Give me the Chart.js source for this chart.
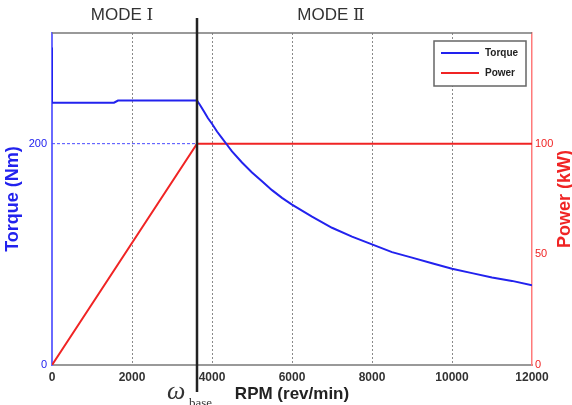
<!DOCTYPE html>
<html>
<head>
<meta charset="utf-8">
<script src="https://cdn.jsdelivr.net/npm/chart.js@4.4.1/dist/chart.umd.min.js"></script>
<style>
  html, body { margin: 0; padding: 0; background: #fff; }
  canvas { display: block; }
</style>
</head>
<body>
<canvas id="chart" width="572" height="405"></canvas>
<script>
// values
const torqueRpm = [0, 0, 1550, 1650, 3625, 3700, 3800, 3900, 4000, 4125, 4250, 4375, 4500, 4750, 5000, 5250, 5500, 5750, 6000, 6500, 7000, 7500, 8000, 8500, 9000, 9500, 10000, 10500, 11000, 11500, 12000];
const torqueNm  = [287, 237, 237, 239, 239, 235, 229, 223, 218, 211, 205, 199, 193, 183, 174, 166, 158, 151, 145, 134, 124, 116, 109, 102, 97, 92, 87, 83, 79, 76, 72];
const powerRpm = [0, 3625, 12000];
const powerKw  = [0, 100, 100];
const refRpm = [0, 3625];
const refNm  = [200, 200];
const baseRpm = 3625;
const xTicks = [0, 2000, 4000, 6000, 8000, 10000, 12000];
const torqueTicks = [0, 200];
const powerTicks = [0, 50, 100];
const modeLabels = ["MODE \u2160", "MODE \u2161"];

const BLUE = "#2222ee";
const RED = "#f02424";

const toPoints = (xs, ys) => xs.map((x, i) => ({x: x, y: ys[i]}));

//draws the frame, the base speed line, legend and loose texts
const decorPlugin = {
    id: "decor",
    afterDatasetsDraw(chart){
        const ctx = chart.ctx;
        const area = chart.chartArea;
        const xs = chart.scales.x;
        ctx.save();
        // top border
        ctx.strokeStyle = "#777";
        ctx.lineWidth = 1.5;
        ctx.beginPath();
        ctx.moveTo(area.left, area.top);
        ctx.lineTo(area.right, area.top);
        ctx.stroke();

        // base speed line
        const bx = xs.getPixelForValue(baseRpm);
        ctx.strokeStyle = "#222";
        ctx.lineWidth = 2.5;
        ctx.beginPath();
        ctx.moveTo(bx, 18);
        ctx.lineTo(bx, 392);
        ctx.stroke();

        // legend
        ctx.fillStyle = "#fff";
        ctx.fillRect(434, 41, 92, 45);
        ctx.strokeStyle = "#666";
        ctx.lineWidth = 1.5;
        ctx.strokeRect(434, 41, 92, 45);
        const items = chart.data.datasets.filter(d => d.label);
        items.forEach((d, i) => {
            const y = 53 + i * 20;
            ctx.strokeStyle = d.borderColor;
            ctx.lineWidth = 2;
            ctx.beginPath();
            ctx.moveTo(441, y);
            ctx.lineTo(479, y);
            ctx.stroke();
            ctx.fillStyle = "#222";
            ctx.font = "bold 10px 'Liberation Sans', Arial, sans-serif";
            ctx.textBaseline = "middle";
            ctx.textAlign = "left";
            ctx.fillText(d.label, 485, y);
        });

        // mode labels
        ctx.fillStyle = "#333";
        ctx.font = "17px 'Liberation Sans', 'DejaVu Serif', serif";
        ctx.textAlign = "center";
        ctx.textBaseline = "middle";
        ctx.fillText(modeLabels[0], 122, 15);
        ctx.fillText(modeLabels[1], 331, 15);

        // right axis title
        ctx.save();
        ctx.translate(565, (area.top + area.bottom) / 2);
        ctx.rotate(-Math.PI / 2);
        ctx.fillStyle = RED;
        ctx.font = "bold 18px 'Liberation Sans', Arial, sans-serif";
        ctx.fillText("Power (kW)", 0, 0);
        ctx.restore();

        // omega base
        ctx.fillStyle = "#333";
        ctx.textAlign = "left";
        ctx.textBaseline = "alphabetic";
        ctx.font = "italic 26px 'Liberation Serif', 'DejaVu Serif', serif";
        ctx.fillText("\u03c9", 167, 399);
        ctx.font = "13px 'Liberation Serif', 'DejaVu Serif', serif";
        ctx.fillText("base", 189, 407);
        ctx.restore();
    }
};

const tickFamily = "'Liberation Sans', Arial, sans-serif";

new Chart(document.getElementById("chart"), {
    type: "line",
    data: {
        datasets: [
            {
                label: "Torque",
                data: toPoints(torqueRpm, torqueNm),
                borderColor: BLUE,
                borderWidth: 2,
                pointRadius: 0,
                tension: 0,
                yAxisID: "y"
            },
            {
                label: "Power",
                data: toPoints(powerRpm, powerKw),
                borderColor: RED,
                borderWidth: 2,
                pointRadius: 0,
                tension: 0,
                yAxisID: "y1"
            },
            {
                label: "",
                data: toPoints(refRpm, refNm),
                borderColor: "#4a4aff",
                borderWidth: 1,
                borderDash: [3, 2],
                pointRadius: 0,
                yAxisID: "y"
            }
        ]
    },
    options: {
        responsive: false,
        animation: false,
        layout: {padding: {top: 33, left: 0, right: 0, bottom: 0}},
        plugins: {
            legend: {display: false},
            tooltip: {enabled: false}
        },
        scales: {
            x: {
                type: "linear",
                min: 0,
                max: 12000,
                afterBuildTicks: (s) => { s.ticks = xTicks.map(v => ({value: v})); },
                afterFit: (s) => { s.height = 40; },
                ticks: {
                    color: "#333",
                    font: {family: tickFamily, size: 12, weight: "bold"},
                    padding: 5,
                    maxRotation: 0,
                    callback: (v) => String(v)
                },
                grid: {
                    drawTicks: false,
                    color: (c) => (c.tick && (c.tick.value === 0 || c.tick.value === 12000)) ? "rgba(0,0,0,0)" : "#8a8a8a",
                    lineWidth: 1
                },
                border: {color: "#999", width: 2, dash: [2, 2]},
                title: {
                    display: true,
                    text: "RPM (rev/min)",
                    color: "#222",
                    font: {family: tickFamily, size: 17, weight: "bold"},
                    padding: {top: 0, bottom: 0}
                }
            },
            y: {
                position: "left",
                min: 0,
                max: 300,
                afterBuildTicks: (s) => { s.ticks = torqueTicks.map(v => ({value: v})); },
                afterFit: (s) => { s.width = 52; },
                ticks: {color: BLUE, font: {family: tickFamily, size: 11}, padding: 5},
                grid: {display: false, drawTicks: false},
                border: {color: "#6a6aff", width: 2},
                title: {
                    display: true,
                    text: "Torque (Nm)",
                    color: BLUE,
                    font: {family: tickFamily, size: 18, weight: "bold"},
                    padding: {top: 2, bottom: 0}
                }
            },
            y1: {
                position: "right",
                min: 0,
                max: 150,
                afterBuildTicks: (s) => { s.ticks = powerTicks.map(v => ({value: v})); },
                afterFit: (s) => { s.width = 40; },
                ticks: {color: RED, font: {family: tickFamily, size: 11}, padding: 3},
                grid: {display: false, drawTicks: false},
                border: {color: "#ff7a7a", width: 1.5}
            }
        }
    },
    plugins: [decorPlugin]
});
</script>
</body>
</html>
